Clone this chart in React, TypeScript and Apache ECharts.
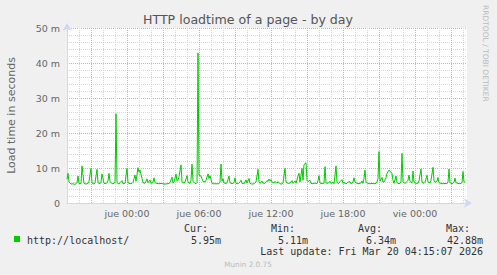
import React, { useEffect, useRef } from "react";
import * as echarts from "echarts";

const TITLE = "HTTP loadtime of a page - by day";
const Y_NAME = "Load time in seconds";
const WATERMARK = "RRDTOOL / TOBI OETIKER";
const FOOTER = "Munin 2.0.75";

// time axis in minutes relative to "jue 00:00"
const START_MIN = -300;
const END_MIN = 1700;
const STEP_MIN = 5;

const xMajorMinutes = [-180, 0, 180, 360, 540, 720, 900, 1080, 1260, 1440, 1620];
const xLabelMinutes = [0, 360, 720, 1080, 1440];
const xLabels = ["jue 00:00", "jue 06:00", "jue 12:00", "jue 18:00", "vie 00:00"];
const yMax = 50;
const yInterval = 10;

// [5-minute sample index from start, load time in ms]
const samples: [number, number][] = [
  [0, 6.8], [1, 8.5], [2, 6.0], [4, 5.4], [6, 5.5], [8, 5.3], [10, 5.8], [11, 7.7], [12, 5.6], [14, 5.5],
  [15, 10.6], [17, 5.6], [19, 5.4], [21, 5.6], [22, 6.2], [24, 9.9], [25, 5.7], [27, 5.4], [28, 5.8], [30, 9.6],
  [31, 5.8], [33, 5.5], [34, 6.0], [35, 8.3], [37, 5.6], [39, 5.5], [41, 6.3], [42, 8.5], [43, 6.2], [45, 5.5],
  [47, 5.6], [48, 6.0], [49, 25.5], [50, 5.8], [52, 5.4], [53, 5.8], [55, 6.4], [56, 5.5], [58, 5.6], [60, 9.9],
  [61, 5.8], [63, 5.5], [65, 5.6], [66, 5.9], [68, 8.0], [69, 6.2], [71, 10.1], [72, 8.8], [73, 9.4], [75, 7.0],
  [76, 5.8], [78, 5.6], [79, 6.2], [80, 6.9], [81, 5.8], [83, 6.6], [84, 5.6], [86, 6.0], [87, 7.2], [88, 5.8],
  [90, 5.6], [92, 5.5], [94, 5.6], [96, 5.5], [98, 5.4], [100, 5.5], [102, 5.6], [103, 5.8], [105, 7.4], [106, 5.7],
  [107, 6.0], [109, 8.3], [110, 6.2], [111, 6.5], [112, 7.5], [114, 10.9], [115, 6.0], [117, 5.7], [118, 6.0], [120, 7.8],
  [121, 6.0], [123, 5.6], [124, 6.5], [125, 11.1], [126, 6.2], [128, 5.6], [129, 5.5], [130, 5.8], [131, 42.88], [132, 8.0],
  [134, 7.7], [135, 6.9], [136, 6.2], [138, 6.0], [139, 6.5], [141, 8.3], [142, 7.0], [143, 7.8], [145, 5.6], [146, 5.5],
  [148, 5.5], [150, 5.5], [152, 5.5], [153, 6.0], [154, 11.1], [155, 6.2], [156, 6.9], [157, 5.7], [159, 5.6], [160, 5.8],
  [162, 7.7], [163, 5.8], [165, 5.5], [167, 5.8], [168, 7.2], [169, 5.6], [171, 5.5], [173, 6.0], [174, 6.5], [175, 5.6],
  [177, 5.5], [179, 6.6], [180, 5.7], [182, 7.0], [183, 5.6], [185, 5.4], [187, 5.5], [189, 6.0], [191, 9.6], [192, 6.0],
  [193, 5.6], [195, 6.3], [196, 5.7], [198, 5.6], [200, 6.4], [201, 6.2], [202, 6.8], [203, 6.3], [204, 6.7], [205, 6.0],
  [207, 5.7], [208, 6.2], [210, 5.6], [211, 6.1], [213, 5.5], [215, 5.4], [216, 5.7], [218, 9.9], [219, 6.0], [221, 5.6],
  [223, 5.7], [225, 6.4], [226, 5.6], [228, 6.3], [229, 5.7], [231, 7.6], [232, 8.5], [233, 6.0], [235, 9.9], [236, 6.5],
  [237, 11.0], [239, 11.5], [240, 6.5], [241, 6.1], [243, 6.5], [244, 5.6], [246, 5.5], [248, 5.7], [250, 5.5], [251, 6.4],
  [252, 7.8], [253, 5.7], [255, 5.5], [257, 5.7], [258, 10.4], [259, 5.8], [261, 5.6], [263, 6.2], [264, 5.6], [266, 6.0],
  [267, 5.5], [269, 10.6], [270, 5.8], [272, 5.6], [273, 6.1], [275, 6.7], [276, 5.6], [277, 6.0], [278, 5.5], [280, 5.6],
  [281, 6.0], [283, 6.1], [284, 5.5], [286, 6.0], [287, 7.2], [288, 6.0], [290, 5.6], [292, 5.5], [294, 5.8], [295, 6.3],
  [296, 5.6], [297, 7.0], [298, 9.4], [299, 6.0], [301, 5.6], [303, 5.5], [305, 5.6], [307, 5.5], [309, 5.6], [310, 6.0],
  [311, 7.0], [312, 14.7], [313, 6.2], [315, 7.3], [316, 6.0], [317, 6.0], [319, 7.2], [320, 8.5], [322, 9.4], [323, 9.0],
  [325, 8.5], [326, 6.5], [327, 5.6], [329, 7.7], [330, 5.8], [332, 5.5], [333, 5.6], [334, 6.2], [335, 14.2], [336, 6.0],
  [338, 5.6], [339, 5.8], [341, 6.5], [342, 8.0], [343, 6.2], [345, 5.7], [346, 9.1], [347, 6.0], [349, 5.6], [351, 5.7],
  [352, 6.3], [354, 9.7], [355, 6.0], [357, 5.6], [358, 5.9], [360, 7.9], [361, 6.0], [363, 5.7], [364, 6.5], [366, 10.2],
  [367, 6.3], [368, 5.9], [370, 6.2], [371, 7.3], [372, 5.8], [374, 5.6], [376, 5.5], [378, 5.6], [380, 5.5], [381, 6.0],
  [382, 9.7], [383, 5.8], [385, 5.5], [387, 5.9], [388, 7.1], [389, 5.8], [391, 5.6], [393, 5.5], [395, 5.8], [396, 9.0],
  [397, 6.0], [398, 5.95],
];

const legendName = "http://localhost/";
const statHeaders = ["Cur:", "Min:", "Avg:", "Max:"];
const statValues = ["5.95m", "5.11m", "6.34m", "42.88m"];
const lastUpdate = "Last update: Fri Mar 20 04:15:07 2026";

const FONT = "DejaVu Sans";
const MONO = "DejaVu Sans Mono";
const TEXT = "#666666";
const AXIS = "#CFD6F8";
const GRID = "#D6D6D6";
const MGRID = "#F0A0A0";
const LINE = "#00CC00";

export default function App() {
  const ref = useRef<HTMLDivElement>(null);
  useEffect(() => {
    document.body.style.margin = "0";
    if (!ref.current) return;
    const chart = echarts.init(ref.current, null, { renderer: "svg" });

    // hourly minor grid positions that are not on a major (3-hour) line
    const xMinorMinutes: number[] = [];
    for (let m = START_MIN; m < END_MIN; m += 60) {
      if (!xMajorMinutes.includes(m)) xMinorMinutes.push(m);
    }

    const headerRight = [208, 295, 382, 470];
    const valueRight = [221, 308, 396, 483];
    const legendText: any[] = [];
    statHeaders.forEach((h, i) => {
      legendText.push({
        type: "text", x: headerRight[i], y: 228,
        style: { text: h, fill: "#333", font: `10px "${MONO}"`, textAlign: "right", textVerticalAlign: "middle" },
      });
      legendText.push({
        type: "text", x: valueRight[i], y: 240,
        style: { text: statValues[i], fill: "#333", font: `10px "${MONO}"`, textAlign: "right", textVerticalAlign: "middle" },
      });
    });

    chart.setOption({
      animation: false,
      backgroundColor: "#F0F0F0",
      grid: {
        left: 67, top: 28, right: 30, bottom: 72,
        show: true, backgroundColor: "#FFFFFF", borderWidth: 0,
        containLabel: false, outerBoundsMode: "none",
      },
      xAxis: [
        {
          type: "value", min: START_MIN, max: END_MIN, position: "bottom",
          axisLine: {
            show: true, onZero: false, lineStyle: { color: AXIS, width: 1 },
            symbol: ["none", "arrow"], symbolSize: [7, 8], symbolOffset: [0, 5],
          },
          axisTick: { show: false, customValues: xMinorMinutes },
          axisLabel: { show: false },
          splitLine: { show: true, lineStyle: { color: GRID, type: [1, 1], width: 1 } },
        },
        {
          type: "value", min: START_MIN, max: END_MIN, position: "bottom",
          axisLine: { show: false },
          axisTick: { show: false, customValues: xMajorMinutes },
          axisLabel: {
            show: true, customValues: xLabelMinutes,
            formatter: (v: number) => xLabels[xLabelMinutes.indexOf(v)] ?? "",
            color: TEXT, fontSize: 9.5, fontFamily: FONT, margin: 5,
          },
          splitLine: { show: true, lineStyle: { color: MGRID, type: [1, 1], width: 1 } },
        },
      ],
      yAxis: {
        type: "value", min: 0, max: yMax, interval: yInterval,
        axisLine: {
          show: true, onZero: false, lineStyle: { color: AXIS, width: 1 },
          symbol: ["none", "arrow"], symbolSize: [7, 8], symbolOffset: [0, 5],
        },
        axisTick: { show: false },
        axisLabel: {
          color: TEXT, fontSize: 9.5, fontFamily: FONT, margin: 7,
          formatter: (v: number) => (v === 0 ? "0" : `${v} m`),
        },
        splitLine: { show: true, lineStyle: { color: MGRID, type: [1, 1], width: 1 } },
        minorTick: { show: false, splitNumber: 5 },
        minorSplitLine: { show: true, lineStyle: { color: GRID, type: [1, 1], width: 1 } },
        name: Y_NAME, nameLocation: "middle", nameGap: 50, nameRotate: 90,
        nameTextStyle: { color: TEXT, fontSize: 11, fontFamily: FONT },
      },
      series: [
        {
          type: "line", xAxisIndex: 0, yAxisIndex: 0,
          data: samples.map(([i, v]) => [START_MIN + i * STEP_MIN, v]),
          symbol: "none", showSymbol: false, clip: true, z: 5,
          lineStyle: { color: LINE, width: 1 },
          itemStyle: { color: LINE },
        },
      ],
      graphic: [
        {
          type: "text", x: 248, y: 19,
          style: { text: TITLE, fill: "#555", font: `12.6px "${FONT}"`, textAlign: "center", textVerticalAlign: "middle" },
        },
        {
          type: "text", x: 485, y: 5, rotation: -Math.PI / 2,
          style: { text: WATERMARK, fill: "#BBBBBB", font: `7.5px "${FONT}"`, textAlign: "left", textVerticalAlign: "middle" },
        },
        { type: "rect", shape: { x: 14, y: 236, width: 6, height: 6 }, style: { fill: LINE } },
        {
          type: "text", x: 27, y: 240,
          style: { text: legendName, fill: "#333", font: `10px "${MONO}"`, textAlign: "left", textVerticalAlign: "middle" },
        },
        ...legendText,
        {
          type: "text", x: 483, y: 251,
          style: { text: lastUpdate, fill: "#333", font: `10px "${MONO}"`, textAlign: "right", textVerticalAlign: "middle" },
        },
        {
          type: "text", x: 248, y: 264,
          style: { text: FOOTER, fill: "#BBBBBB", font: `7.3px "${FONT}"`, textAlign: "center", textVerticalAlign: "middle" },
        },
      ],
    });
    return () => chart.dispose();
  }, []);
  return <div ref={ref} style={{ width: 497, height: 275 }} />;
}
